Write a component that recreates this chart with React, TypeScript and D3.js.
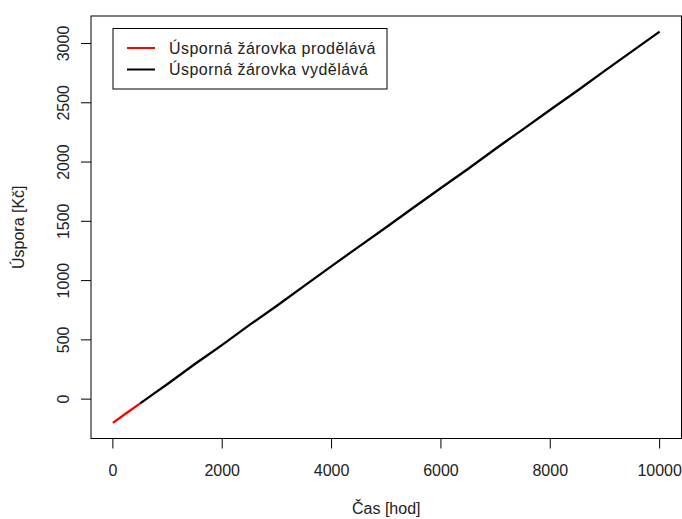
import React from 'react';
import * as d3 from 'd3';

// hodiny provozu a uspora v Kc
const hours = [0, 250, 500, 750, 1000, 1250, 1500, 1750, 2000, 2500, 3000, 3500, 4000, 4500, 5000, 5500, 6000, 6500, 7000, 7500, 8000, 8500, 9000, 9500, 10000];
const savings = [-200, -117, -36, 47, 128, 212, 296, 377, 458, 626, 788, 956, 1122, 1287, 1450, 1617, 1781, 1944, 2112, 2276, 2441, 2604, 2771, 2936, 3100];
const lossUntil = 500;

const xTicks = [0, 2000, 4000, 6000, 8000, 10000];
const yTicks = [0, 500, 1000, 1500, 2000, 2500, 3000];
const legendLabels = ['Úsporná žárovka prodělává', 'Úsporná žárovka vydělává'];
const legendColors = ['#ff0000', '#000000'];

const W = 682;
const H = 519;
const box = { left: 91, right: 681.5, top: 16, bottom: 438.5 };
const font = '"Liberation Sans", Arial, sans-serif';

const App = () => {
  const pad = (a: number, b: number) => [a - (b - a) * 0.04, b + (b - a) * 0.04];
  const [x0, x1] = pad(d3.min(hours)!, d3.max(hours)!);
  const [y0, y1] = pad(d3.min(savings)!, d3.max(savings)!);
  const x = d3.scaleLinear().domain([x0, x1]).range([box.left, box.right]);
  const y = d3.scaleLinear().domain([y0, y1]).range([box.bottom, box.top]);

  const pts = hours.map((h, i) => ({ h, v: savings[i] }));
  const line = d3.line<{ h: number; v: number }>().x(d => x(d.h)).y(d => y(d.v));
  const lossPts = pts.filter(p => p.h <= lossUntil);
  const gainPts = pts.filter(p => p.h >= lossUntil);

  return (
    <svg width={W} height={H} style={{ position: 'absolute', left: 0, top: 0, background: '#fff' }}
      fontFamily={font}>
      <path d={line(lossPts)!} fill="none" stroke="#ff0000" strokeWidth={2.3} strokeLinejoin="round" />
      <path d={line(gainPts)!} fill="none" stroke="#000" strokeWidth={2.3} strokeLinejoin="round" />

      <rect x={box.left} y={box.top} width={box.right - box.left} height={box.bottom - box.top}
        fill="none" stroke="#000" strokeWidth={1} />

      {xTicks.map(t => (
        <g key={'x' + t}>
          <line x1={x(t)} x2={x(t)} y1={box.bottom} y2={box.bottom + 10} stroke="#000" />
          <text x={x(t)} y={470} dy="0.35em" textAnchor="middle" fontSize={16} fill="#222">{t}</text>
        </g>
      ))}
      {yTicks.map(t => (
        <g key={'y' + t}>
          <line x1={box.left - 10} x2={box.left} y1={y(t)} y2={y(t)} stroke="#000" />
          <text transform={`translate(63,${y(t)}) rotate(-90)`} dy="0.35em" textAnchor="middle"
            fontSize={16} fill="#222">{t}</text>
        </g>
      ))}

      <text x={(box.left + box.right) / 2} y={508} dy="0.35em" textAnchor="middle" fontSize={16} fill="#222">
        Čas [hod]
      </text>
      <text transform={`translate(18,${(box.top + box.bottom) / 2}) rotate(-90)`} dy="0.35em"
        textAnchor="middle" fontSize={16} fill="#222">Úspora [Kč]</text>

      <g>
        <rect x={113} y={28.5} width={274} height={60.5} fill="#fff" stroke="#000" strokeWidth={1} />
        {legendLabels.map((l, i) => (
          <g key={l}>
            <line x1={127} x2={155} y1={48 + i * 21.5} y2={48 + i * 21.5} stroke={legendColors[i]} strokeWidth={2} />
            <text x={169} y={48 + i * 21.5} dy="0.35em" fontSize={16} letterSpacing={0.45} fill="#222">{l}</text>
          </g>
        ))}
      </g>
    </svg>
  );
};

export default App;
